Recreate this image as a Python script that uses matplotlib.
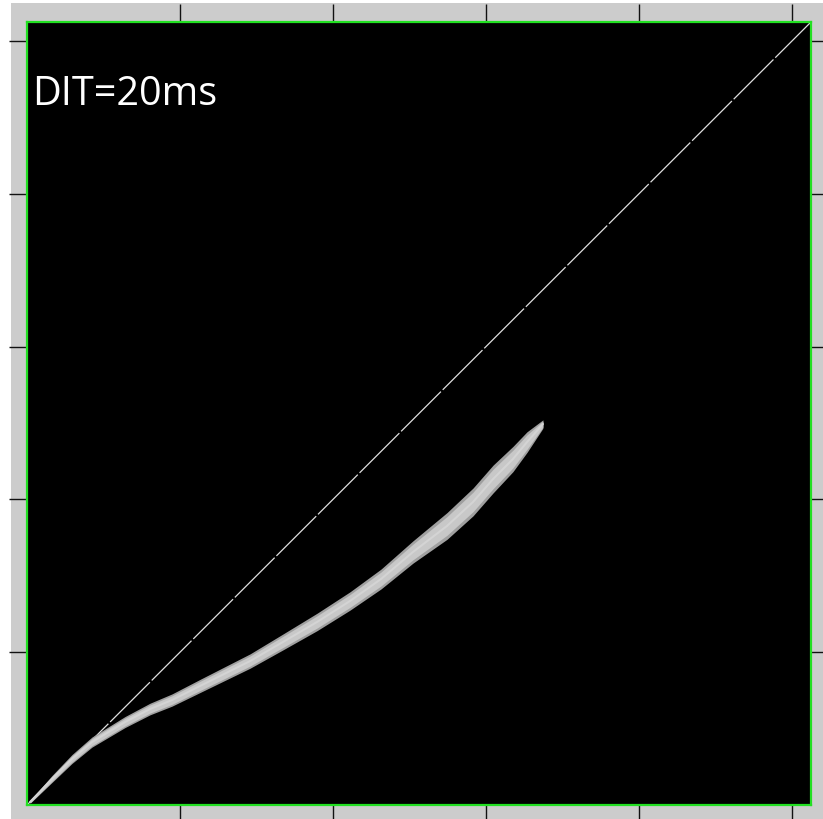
import numpy as np
import matplotlib
matplotlib.use('Agg')
import matplotlib.pyplot as plt
from matplotlib.patches import Rectangle

# centre of the measured distribution and its vertical thickness
curve_x = [0.020, 0.163, 0.294, 0.425, 0.641, 0.804, 0.948, 1.131, 1.458, 1.673,
           1.896, 2.111, 2.314, 2.523, 2.745, 2.915, 3.046, 3.176, 3.268, 3.372]
curve_y = [0.020, 0.170, 0.301, 0.412, 0.543, 0.628, 0.687, 0.779, 0.942, 1.067,
           1.198, 1.335, 1.479, 1.656, 1.826, 1.983, 2.133, 2.264, 2.375, 2.493]
thickness = [0.018, 0.045, 0.058, 0.066, 0.072, 0.076, 0.080, 0.086, 0.094, 0.104,
             0.114, 0.120, 0.130, 0.146, 0.175, 0.182, 0.182, 0.165, 0.135, 0.055]

ticks = [1, 2, 3, 4, 5]
lim = (0.0, 5.124)
label = 'DIT=20ms'

cx = np.array(curve_x)
cy = np.array(curve_y)
half = np.array(thickness) / 2.0

fig = plt.figure(figsize=(8.23, 8.20), dpi=100, facecolor='white')
fig.patches.append(Rectangle((11 / 823., 0), 1, 816 / 820., transform=fig.transFigure,
                             facecolor='#cccccc', edgecolor='none', zorder=-10))

ax = fig.add_axes([27 / 823., 14 / 820., 784 / 823., 783 / 820.])
ax.set_facecolor('black')
ax.set_xlim(lim)
ax.set_ylim(lim)

# 1:1 reference
ax.plot(lim, lim, color='#e0e0e0', lw=0.9, linestyle=(0, (45, 2)), zorder=2)

# density band: darker rim, brighter core
ax.fill_between(cx, cy - half, cy + half, color='#a0a0a0', lw=0, zorder=3)
ax.fill_between(cx, cy - half * 0.7, cy + half * 0.7, color='#c8c8c8', lw=0, zorder=4)
ax.plot(cx, cy, color='#d4d4d4', lw=1.5, zorder=5, solid_capstyle='round',
        solid_joinstyle='round')

ax.text(0.006, 0.895, label, transform=ax.transAxes, color='white',
        fontsize=28.5, family='Open Sans', va='baseline', ha='left', zorder=6)

ax.set_xticks(ticks)
ax.set_yticks(ticks)
ax.tick_params(direction='out', length=13, width=1, color='#111111',
               top=True, right=True, labelbottom=False, labelleft=False)
for s in ax.spines.values():
    s.set_color('#22e022')
    s.set_linewidth(1.6)

plt.savefig('out.png', dpi=100, facecolor=fig.get_facecolor())
